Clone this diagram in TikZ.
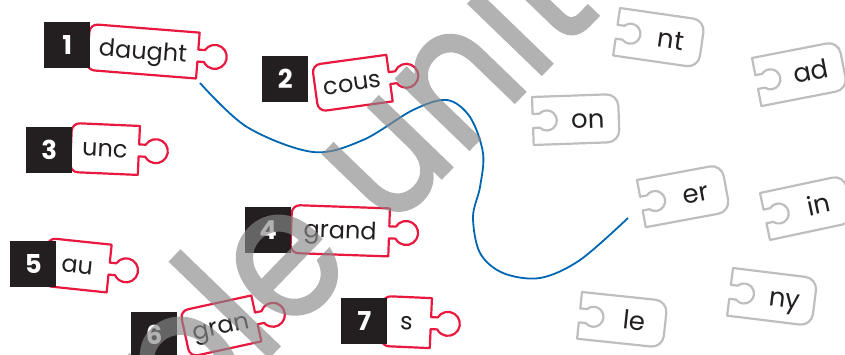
\documentclass[tikz,border=0pt]{standalone}
\usepackage{fontspec}
\setmainfont{Poppins}
\newfontfamily\wmfont{Poppins}[FakeBold=1.5]
\definecolor{pzred}{HTML}{E8183F}
\definecolor{pzgrey}{HTML}{BEBEC0}
\definecolor{pzblack}{HTML}{231F20}
\definecolor{pzblue}{HTML}{0066B2}
\definecolor{wmgrey}{RGB}{137,137,137}
\tikzset{
  redline/.style={draw=pzred, line width=2.2pt, fill=white, line join=round},
  greyline/.style={draw=pzgrey, line width=2.2pt, fill=white, line join=round},
  numbox/.style={fill=pzblack, minimum size=46pt, inner sep=0pt, text=white,
    font=\fontsize{26}{26}\selectfont\bfseries, anchor=north west},
  word/.style={font=\fontsize{24}{30}\selectfont, text=pzblack, inner sep=0pt, anchor=base},
  gword/.style={font=\fontsize{26}{30}\selectfont, text=pzblack, inner sep=0pt, anchor=base},
  wmark/.style={font=\wmfont\fontsize{185}{185}\selectfont, text=wmgrey, inner sep=0pt},
  link/.style={draw=pzblue, line width=1.8pt},
  pics/redpc/.style n args={3}{code={
    \draw[redline] (8,0) -- (#1,0) -- (#1,{-#2/2+6}) -- ({#1+6.6},{-#2/2+6})
      arc[start angle=150,end angle=-150,radius=12pt] -- (#1,{-#2/2-6}) -- (#1,-#2)
      -- (8,-#2) arc[start angle=270,end angle=180,radius=8pt] -- (0,-8)
      arc[start angle=180,end angle=90,radius=8pt] -- cycle;
    \node[word] (-txt) at ({#1/2},{-#2/2-8}) {#3};
  }},
  pics/greypc/.style n args={3}{code={
    \draw[greyline] (0,0) -- ({#1-12},0) arc[start angle=90,end angle=0,radius=12pt]
      -- (#1,{-#2+12}) arc[start angle=0,end angle=-90,radius=12pt] -- (0,-#2)
      -- (0,{-#2/2-7}) -- (6.9,{-#2/2-7}) arc[start angle=224.6,end angle=495.4,radius=10pt]
      -- (0,{-#2/2+7}) -- cycle;
    \node[gword] (-txt) at (55,{-#2/2-9}) {#3};
  }}
}
\begin{document}
\begin{tikzpicture}[x=1pt,y=1pt]
\useasboundingbox (0,0) rectangle (845,-354);
\clip (0,0) rectangle (845,-354);
% red pieces
\begin{scope}[shift={(90,-24)},rotate=-4.5,transform shape]\pic (p1) at (0,0) {redpc={110}{46}{daught}};\end{scope}
\begin{scope}[shift={(312,-65)},rotate=7.8,transform shape]\pic (p2) at (0,0) {redpc={75}{47}{cous}};\end{scope}
\begin{scope}[shift={(72,-123)},rotate=-2.5,transform shape]\pic (p3) at (0,0) {redpc={68}{49}{unc}};\end{scope}
\begin{scope}[shift={(292,-205)},rotate=-2,transform shape]\pic (p4) at (0,0) {redpc={98}{48}{grand}};\end{scope}
\begin{scope}[shift={(48,-238)},rotate=-6,transform shape]\pic (p5) at (0,0) {redpc={64}{48}{au}};\end{scope}
\begin{scope}[shift={(180,-311)},rotate=12.3,transform shape]\pic (p6) at (0,0) {redpc={73}{47}{gran}};\end{scope}
\begin{scope}[shift={(383,-296)},rotate=-2.5,transform shape]\pic (p7) at (0,0) {redpc={49}{50}{s}};\end{scope}
% number boxes
\node[numbox] (n1) at (44,-22) {1};
\node[numbox] (n2) at (262,-56) {2};
\node[numbox] (n3) at (26,-127) {3};
\node[numbox] (n4) at (245,-207) {4};
\node[numbox] (n5) at (10,-241) {5};
\node[numbox] (n6) at (131,-312) {6};
\node[numbox] (n7) at (341,-298) {7};
% grey pieces
\begin{scope}[shift={(620,-8)},rotate=-8.2,transform shape]\pic (g1) at (0,0) {greypc={86}{48}{nt}};\end{scope}
\begin{scope}[shift={(532,-97)},rotate=2,transform shape]\pic (g2) at (0,0) {greypc={86}{48}{on}};\end{scope}
\begin{scope}[shift={(752,-58)},rotate=11,transform shape]\pic (g3) at (0,0) {greypc={88}{49}{ad}};\end{scope}
\begin{scope}[shift={(637,-180)},rotate=10.5,transform shape]\pic (g4) at (0,0) {greypc={86}{48}{er}};\end{scope}
\begin{scope}[shift={(760,-193)},rotate=12,transform shape]\pic (g5) at (0,0) {greypc={86}{48}{in}};\end{scope}
\begin{scope}[shift={(733,-268)},rotate=-7,transform shape]\pic (g6) at (0,0) {greypc={85}{48}{ny}};\end{scope}
\begin{scope}[shift={(582,-292)},rotate=-6,transform shape]\pic (g7) at (0,0) {greypc={86}{47}{le}};\end{scope}
% answer line
\coordinate (bs) at (200,-83);
\coordinate (be) at (628,-218);
\draw[link] plot[smooth,tension=0.55] coordinates {(bs) (247,-127) (313,-152) (363,-140) (413,-110) (447,-100) (470,-117) (483,-153) (480,-187) (473,-217) (480,-253) (503,-273) (540,-278) (580,-260) (be)};
% watermark
\begin{scope}[transparency group, opacity=0.65]
\node[wmark, rotate=46, xscale=0.88, anchor=base west] (wm) at (260,-366) {\llap{Samp}le unit};
\end{scope}
\end{tikzpicture}
\end{document}
